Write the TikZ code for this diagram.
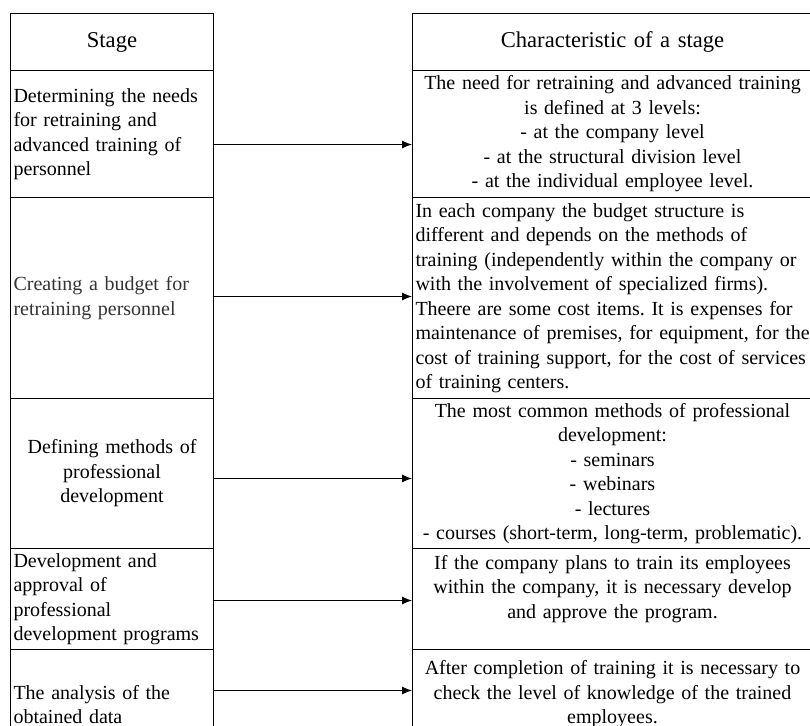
\documentclass[tikz,border=0pt]{standalone}
\usepackage{fontspec}
\setmainfont{Liberation Serif}
\frenchspacing
\usetikzlibrary{arrows.meta}

\begin{document}
\begin{tikzpicture}[x=1pt, y=-1pt, line width=1pt, >={Latex[length=10pt,width=8pt]},
    stagecell/.style={text width=197pt, minimum height=#1},
    infocell/.style={text width=394pt, minimum height=#1}]
   \useasboundingbox (0,0) rectangle (810,725);
   \clip (0,0) rectangle (810,725);
   \begin{scope}[every node/.style={draw, anchor=north west, inner xsep=3pt, inner ysep=1pt,
       font=\fontsize{20}{24.5}\selectfont}]
    \node[stagecell=57pt, align=center, font=\fontsize{22.6}{27}\selectfont] (h1) at (10,13) {Stage};
    \node[infocell=57pt, align=center, font=\fontsize{22.6}{27}\selectfont] (h2) at (412,13) {Characteristic of a stage};

    \node[stagecell=127pt, align=left] (s1) at (10,70) {Determining the needs\\for retraining and\\advanced training of\\personnel};
    \node[stagecell=201pt, align=left, text=black!80] (s2) at (10,197) {Creating a budget for\\retraining personnel};
    \node[stagecell=150pt, align=center] (s3) at (10,398) {Defining methods of\\professional\\development};
    \node[stagecell=101pt, align=left] (s4) at (10,548) {Development and\\approval of\\professional\\development programs};
    \node[stagecell=110pt, align=left] (s5) at (10,649) {The analysis of the\\obtained data};

    \node[infocell=127pt, align=center] (c1) at (412,70) {The need for retraining and advanced training\\is defined at 3 levels:\\- at the company level\\- at the structural division level\\- at the individual employee level.};
    \node[infocell=201pt, text width=420pt, align=left] (c2) at (412,197) {In each company the budget structure is\\different and depends on the methods of\\training (independently within the company or\\with the involvement of specialized firms).\\Theere are some cost items. It is expenses for\\maintenance of premises, for equipment, for the\\cost of training support, for the cost of services\\of training centers.};
    \node[infocell=150pt, align=center] (c3) at (412,398) {The most common methods of professional\\development:\\- seminars\\- webinars\\- lectures\\- courses (short-term, long-term, problematic).};
    \node[infocell=101pt, align=center] (c4) at (412,548) {If the company plans to train its employees\\within the company, it is necessary develop\\and approve the program.\\\mbox{}};
    \node[infocell=110pt, align=center] (c5) at (412,649) {After completion of training it is necessary to\\check the level of knowledge of the trained\\employees.\\\mbox{}};
   \end{scope}
   \begin{scope}[every edge/.style={draw=black, line width=1pt, ->}]
    \draw ([yshift=-10.5pt]s1.east) edge ([yshift=-10.5pt]c1.west);
    \draw ([yshift=1.5pt]s2.east) edge ([yshift=1.5pt]c2.west);
    \draw ([yshift=-5pt]s3.east) edge ([yshift=-5pt]c3.west);
    \draw ([yshift=-1.5pt]s4.east) edge ([yshift=-1.5pt]c4.west);
    \draw ([yshift=14pt]s5.east) edge ([yshift=14pt]c5.west);
   \end{scope}
\end{tikzpicture}
\end{document}
